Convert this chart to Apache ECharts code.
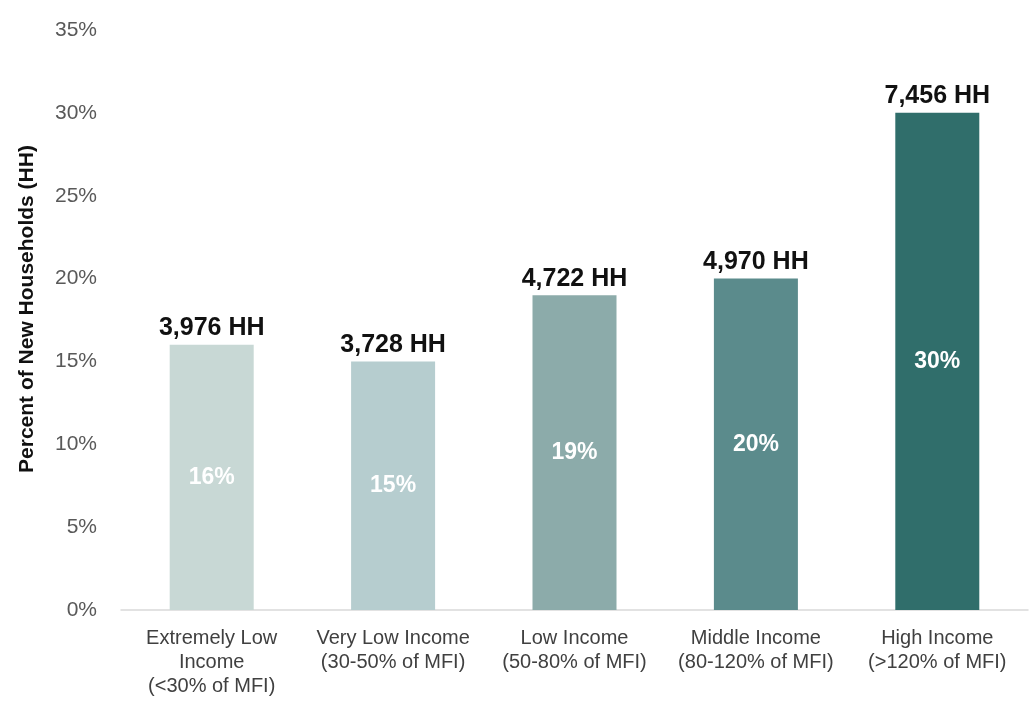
<!DOCTYPE html>
<html>
<head>
<meta charset="utf-8">
<script src="https://cdn.jsdelivr.net/npm/echarts@6/dist/echarts.min.js"></script>
<style>
html,body{margin:0;padding:0;background:#fff;}
#chart{width:1036px;height:710px;}
</style>
</head>
<body>
<div id="chart"></div>
<script>
var categories = [
  "Extremely Low\nIncome\n(<30% of MFI)",
  "Very Low Income\n(30-50% of MFI)",
  "Low Income\n(50-80% of MFI)",
  "Middle Income\n(80-120% of MFI)",
  "High Income\n(>120% of MFI)"
];
var percentValues = [16, 15, 19, 20, 30];
var householdLabels = ["3,976 HH", "3,728 HH", "4,722 HH", "4,970 HH", "7,456 HH"];
var barColors = ["#c8d8d5", "#b6cdcf", "#8cabaa", "#5b8b8c", "#306e6b"];
var yTicks = [0, 5, 10, 15, 20, 25, 30, 35];

var font = "'Liberation Sans', Arial, sans-serif";
var chart = echarts.init(document.getElementById('chart'), null, {renderer: 'canvas'});

var barData = percentValues.map(function (v, i) {
  return { value: v, itemStyle: { color: barColors[i] } };
});
var topData = percentValues.map(function (v, i) {
  return { value: v, hh: householdLabels[i] };
});

chart.setOption({
  animation: false,
  backgroundColor: '#ffffff',
  grid: { left: 121, right: 8, top: 30, bottom: 100, containLabel: false },
  xAxis: {
    type: 'category',
    data: categories,
    axisLine: { show: true, lineStyle: { color: '#d9d9d9', width: 1.5 } },
    axisTick: { show: false },
    axisLabel: {
      color: '#404040', fontFamily: font, fontSize: 20, lineHeight: 24,
      margin: 16, interval: 0
    }
  },
  yAxis: {
    type: 'value',
    min: yTicks[0],
    max: yTicks[yTicks.length - 1],
    interval: 5,
    name: 'Percent of New Households (HH)',
    nameLocation: 'middle',
    nameGap: 83,
    nameTextStyle: { color: '#111', fontFamily: font, fontSize: 21, fontWeight: 'bold', padding: [0, 0, 0, 22] },
    axisLine: { show: false },
    axisTick: { show: false },
    splitLine: { show: false },
    axisLabel: {
      color: '#595959', fontFamily: font, fontSize: 21, margin: 24,
      formatter: function (v) { return v + '%'; }
    }
  },
  series: [
    {
      type: 'bar',
      data: barData,
      barWidth: 84,
      barGap: '-100%',
      label: {
        show: true, position: 'inside', color: '#ffffff',
        fontFamily: font, fontSize: 23, fontWeight: 'bold',
        formatter: function (p) { return p.value + '%'; }
      }
    },
    {
      type: 'bar',
      data: topData,
      barWidth: 84,
      itemStyle: { color: 'rgba(0,0,0,0)' },
      silent: true,
      label: {
        show: true, position: 'top', distance: 4, color: '#111111',
        fontFamily: font, fontSize: 25, fontWeight: 'bold',
        formatter: function (p) { return p.data.hh; }
      }
    }
  ]
});
</script>
</body>
</html>
